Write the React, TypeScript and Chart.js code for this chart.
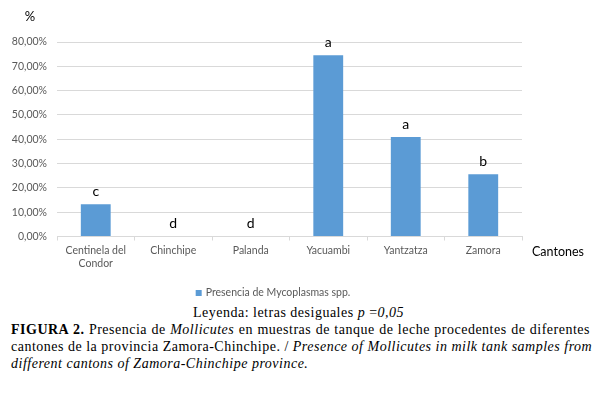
import React, { useEffect, useRef } from "react";
import { Chart, registerables } from "chart.js";

Chart.register(...registerables);

const categories: (string | string[])[] = [["Centinela del", "Condor"], "Chinchipe", "Palanda", "Yacuambi", "Yantzatza", "Zamora"];
const presencia = [13.3, 0, 0, 74.5, 40.9, 25.6];
const letters = ["c", "d", "d", "a", "a", "b"];
const seriesName = "Presencia de Mycoplasmas spp.";
const yMax = 80;
const yStep = 10;
const yTitle = "%";
const xTitle = "Cantones";

const FONT = "Lato, 'Noto Sans', sans-serif";
const GRAY = "#595959";
const GRID = "#d9d9d9";
const BAR = "#5B9BD5";

const annotate = {
  id: "annotate",
  afterDatasetsDraw(chart: any) {
    const { ctx, scales, chartArea } = chart;
    const xs = scales.x;
    const ys = scales.y;
    ctx.save();
    ctx.fillStyle = "#000";
    ctx.textAlign = "center";
    ctx.textBaseline = "middle";
    ctx.font = `14px ${FONT}`;
    presencia.forEach((v, i) => {
      ctx.fillText(letters[i], xs.getPixelForValue(i), ys.getPixelForValue(v) - 13);
    });
    ctx.font = `13px ${FONT}`;
    ctx.fillText(yTitle, 30, 17);
    ctx.textAlign = "left";
    ctx.font = `12.5px ${FONT}`;
    ctx.fillText(xTitle, chartArea.right + 10, 252);

    // legend
    ctx.font = `10.5px ${FONT}`;
    const tw = ctx.measureText(seriesName).width;
    const box = 6;
    const gap = 4;
    const total = box + gap + tw;
    const cx = 273;
    const ly = 293;
    const x0 = cx - total / 2;
    ctx.fillStyle = BAR;
    ctx.fillRect(x0, ly - box / 2, box, box);
    ctx.fillStyle = GRAY;
    ctx.fillText(seriesName, x0 + box + gap, ly);
    ctx.restore();
  },
};

export default function App() {
  const ref = useRef<HTMLCanvasElement | null>(null);
  useEffect(() => {
    if (!ref.current) return;
    const chart = new Chart(ref.current, {
      type: "bar",
      data: {
        labels: categories,
        datasets: [
          {
            label: seriesName,
            data: presencia,
            backgroundColor: BAR,
            categoryPercentage: 1,
            barPercentage: 0.385,
          },
        ],
      },
      options: {
        animation: false,
        responsive: false,
        maintainAspectRatio: false,
        layout: { padding: { top: 42, right: 75, left: 0, bottom: 0 } },
        plugins: {
          tooltip: { enabled: false },
          legend: { display: false },
        },
        scales: {
          x: {
            afterFit: (s: any) => {
              s.height = 63.5;
            },
            border: { color: GRID },
            grid: { offset: true, drawOnChartArea: false, tickLength: 4, color: GRID },
            ticks: { color: GRAY, padding: 4, font: { family: FONT, size: 10.5 }, maxRotation: 0, autoSkip: false },
          },
          y: {
            min: 0,
            max: yMax,
            afterFit: (s: any) => {
              s.width = 57;
            },
            border: { display: false },
            grid: { color: GRID, drawTicks: false },
            ticks: {
              stepSize: yStep,
              padding: 10,
              color: GRAY,
              font: { family: FONT, size: 10.5 },
              callback: (v: any) => Number(v).toFixed(2).replace(".", ",") + "%",
            },
          },
        },
      },
      plugins: [annotate],
    });
    return () => chart.destroy();
  }, []);

  const serif = "'Liberation Serif', 'Times New Roman', serif";
  const lineStyle: React.CSSProperties = { height: 17, lineHeight: "17px", whiteSpace: "nowrap" };
  const justified: React.CSSProperties = { ...lineStyle, textAlign: "justify", textAlignLast: "justify" as any };

  return (
    <div style={{ position: "fixed", left: 0, top: 0, width: 597, height: 393, background: "#fff", overflow: "hidden" }}>
      <canvas ref={ref} width={597} height={300} style={{ position: "absolute", left: 0, top: 0, width: 597, height: 300 }} />
      <div style={{ position: "absolute", left: 0, top: 304, width: 597, fontFamily: serif, fontSize: 14, letterSpacing: "0.5px", color: "#000" }}>
        <div style={{ ...lineStyle, textAlign: "center" }}>
          Leyenda: letras desiguales <i>p</i> =<i>0,05</i>
        </div>
        <div style={{ marginLeft: 11, width: 579 }}>
          <div style={justified}>
            <b>FIGURA 2.</b> Presencia de <i>Mollicutes</i> en muestras de tanque de leche procedentes de diferentes
          </div>
          <div style={justified}>
            cantones de la provincia Zamora-Chinchipe. / <i>Presence of Mollicutes in milk tank samples from</i>
          </div>
          <div style={lineStyle}>
            <i>different cantons of Zamora-Chinchipe province.</i>
          </div>
        </div>
      </div>
    </div>
  );
}
